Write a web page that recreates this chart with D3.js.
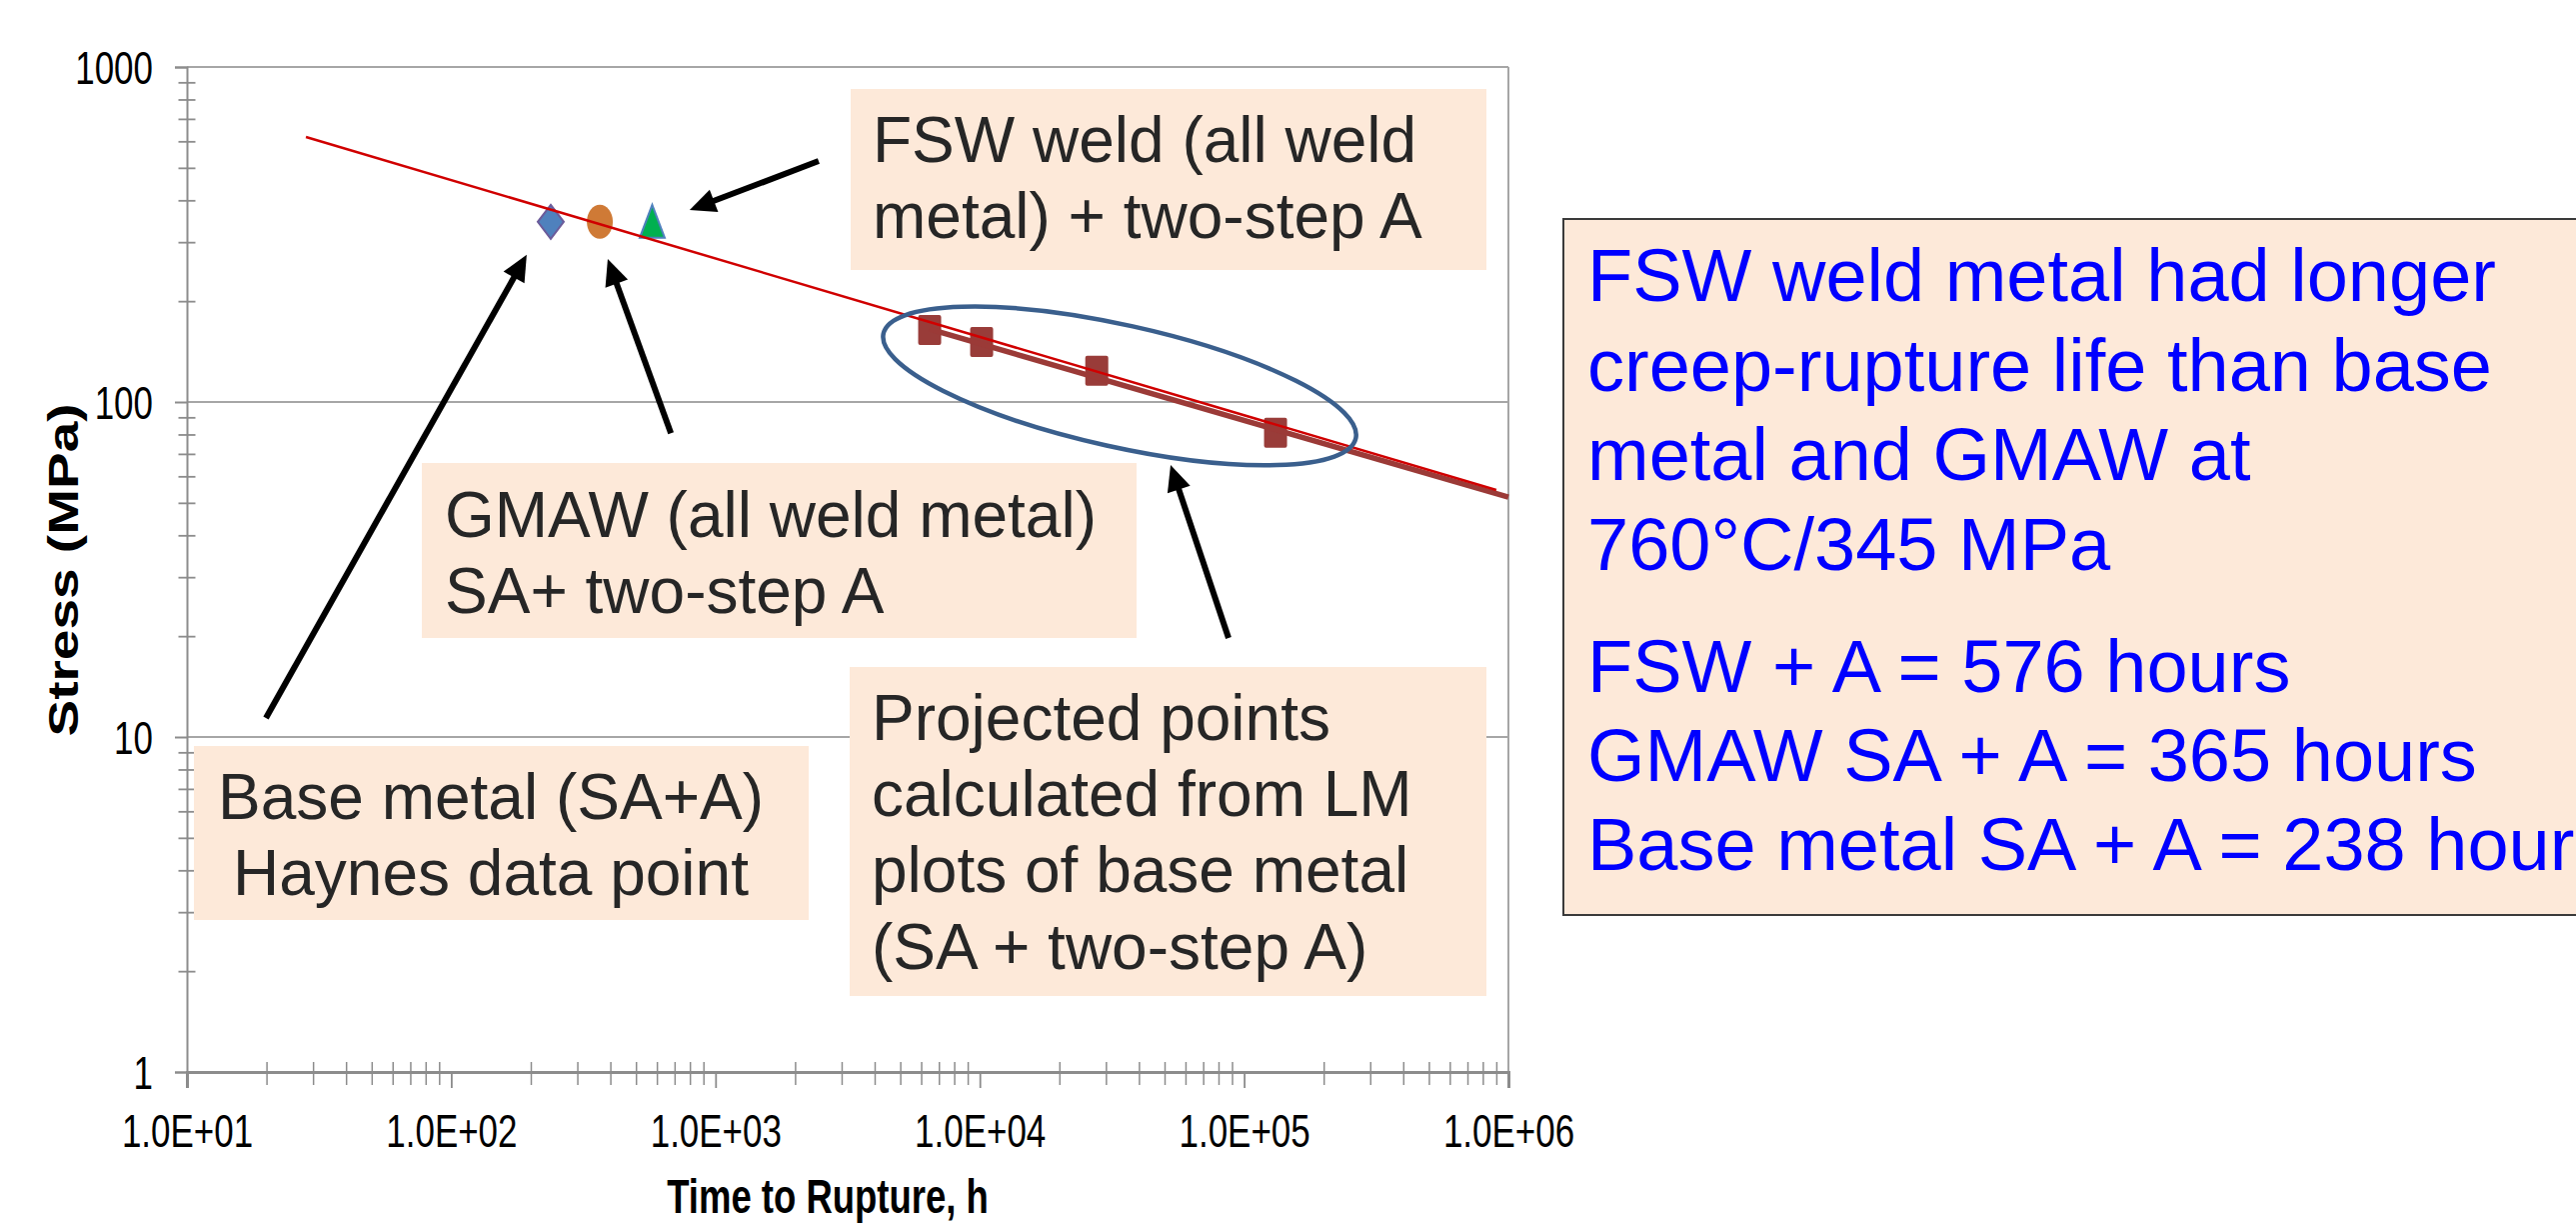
<!DOCTYPE html>
<html>
<head>
<meta charset="utf-8">
<script src="https://cdn.jsdelivr.net/npm/d3@7"></script>
<style>
  html, body { margin: 0; padding: 0; background: #ffffff; }
  svg { display: block; }
</style>
</head>
<body>
<svg id="chart" width="2577" height="1225"></svg>
<script>
// ---------------- DATA ----------------
const timeTicks = [10, 100, 1000, 10000, 100000, 1000000];
const timeTickLabels = ["1.0E+01", "1.0E+02", "1.0E+03", "1.0E+04", "1.0E+05", "1.0E+06"];
const stressTicks = [1, 10, 100, 1000];
const stressTickLabels = ["1", "10", "100", "1000"];

// measured points (time to rupture h, stress MPa)
const baseMetalTime = [238];
const baseMetalStress = [345];
const gmawTime = [365];
const gmawStress = [345];
const fswTime = [576];
const fswStress = [345];

// projected points from LM plots
const projectedTime = [6460, 10160, 27700, 131500];
const projectedStress = [164, 151, 124, 81];

// trend lines [time, stress]
const overallTrend = [[28.2, 618], [900000, 54.6]];
const projectedTrend = [[6460, 165], [1000000, 52]];

// annotation texts
const noteFSW = ["FSW weld (all weld", "metal) + two-step A"];
const noteGMAW = ["GMAW (all weld metal)", "SA+ two-step A"];
const noteBase = ["Base metal (SA+A)", "Haynes data point"];
const noteProjected = ["Projected points", "calculated from LM", "plots of base metal", "(SA + two-step A)"];
const summaryLines = ["FSW weld metal had longer", "creep-rupture life than base", "metal and GMAW at", "760°C/345 MPa",
                      "FSW + A = 576 hours", "GMAW SA + A = 365 hours", "Base metal SA + A = 238 hours"];

// arrows: [tail, tip] in data units [time, stress]
const arrowFSW = [[2455, 524], [798, 374]];
const arrowBase = [[19.9, 11.4], [193, 275]];
const arrowGMAW = [[678, 80.7], [391, 267]];
const arrowProjected = [[87300, 19.75], [52700, 64.9]];
// highlight ellipse centre [time, stress]
const ellipseCentre = [33800, 111.7];

// ---------------- LAYOUT ----------------
const svg = d3.select("#chart");
const L = 187, R = 1509, T = 67, B = 1072;
const x = d3.scaleLog().domain([10, 1e6]).range([L, R]);
const y = d3.scaleLog().domain([1, 1000]).range([B, T]);
const FONT = "'Liberation Sans', Arial, Helvetica, sans-serif";
const K = 0.76; // horizontal squeeze of chart text
const gridCol = "#a6a6a6", axisCol = "#8c8c8c";

// minor tick values
const minorX = [];
[10, 100, 1000, 10000, 100000].forEach(d => { for (let k = 2; k <= 9; k++) minorX.push(d * k); });
const minorY = [];
[1, 10, 100].forEach(d => { for (let k = 2; k <= 9; k++) minorY.push(d * k); });

// gridlines
svg.append("g").selectAll("line").data(stressTicks.slice(1)).join("line")
  .attr("x1", L).attr("x2", R).attr("y1", d => y(d)).attr("y2", d => y(d))
  .attr("stroke", gridCol).attr("stroke-width", 2);
// right border
svg.append("line").attr("x1", R).attr("x2", R).attr("y1", T).attr("y2", B)
  .attr("stroke", gridCol).attr("stroke-width", 2);

// Y axis major
const yAxis = svg.append("g").attr("transform", `translate(${L},0)`)
  .call(d3.axisLeft(y).tickValues(stressTicks).tickSize(12)
    .tickFormat((d, i) => stressTickLabels[i]));
yAxis.select(".domain").attr("stroke", axisCol).attr("stroke-width", 2);
yAxis.selectAll(".tick line").attr("stroke", axisCol).attr("stroke-width", 2);
yAxis.selectAll(".tick text")
  .attr("x", 0).attr("dy", null).attr("y", 16)
  .attr("transform", `translate(-34,0) scale(${K},1)`)
  .attr("font-family", FONT).attr("font-size", 46).attr("fill", "#000");
// Y axis minor (crossing)
const yMinor = svg.append("g").attr("transform", `translate(${L + 8.5},0)`)
  .call(d3.axisLeft(y).tickValues(minorY).tickSize(17).tickFormat(""));
yMinor.select(".domain").remove();
yMinor.selectAll(".tick line").attr("stroke", axisCol).attr("stroke-width", 1.8);

// X axis major
const xAxis = svg.append("g").attr("transform", `translate(0,${B})`)
  .call(d3.axisBottom(x).tickValues(timeTicks).tickSize(16)
    .tickFormat((d, i) => timeTickLabels[i]));
xAxis.select(".domain").attr("stroke", axisCol).attr("stroke-width", 3);
xAxis.selectAll(".tick line").attr("stroke", axisCol).attr("stroke-width", 1.8);
xAxis.selectAll(".tick text")
  .attr("y", 0).attr("dy", null)
  .attr("transform", `translate(0,75) scale(${K},1)`)
  .attr("font-family", FONT).attr("font-size", 46).attr("fill", "#000");
// X axis minor (crossing)
const xMinor = svg.append("g").attr("transform", `translate(0,${B - 10})`)
  .call(d3.axisBottom(x).tickValues(minorX).tickSize(23).tickFormat(""));
xMinor.select(".domain").remove();
xMinor.selectAll(".tick line").attr("stroke", axisCol).attr("stroke-width", 1.5);

// axis titles
svg.append("text").attr("transform", `translate(828,1213) scale(${K},1)`)
  .attr("text-anchor", "middle").attr("font-family", FONT).attr("font-weight", "bold")
  .attr("font-size", 48).attr("fill", "#000").text("Time to Rupture, h");
svg.append("text").attr("transform", `translate(78,570) scale(${K},1) rotate(-90)`)
  .attr("text-anchor", "middle").attr("font-family", FONT).attr("font-weight", "bold")
  .attr("font-size", 55).attr("fill", "#000").text("Stress (MPa)");

// ---------------- MARKS ----------------
const pts = g => g;
// projected squares
svg.append("g").selectAll("rect").data(projectedTime.map((t, i) => [t, projectedStress[i]])).join("rect")
  .attr("x", d => x(d[0]) - 11.5).attr("y", d => y(d[1]) - 15)
  .attr("width", 23).attr("height", 30).attr("rx", 2)
  .attr("fill", "#993c39");
// base metal diamond
svg.append("g").selectAll("path").data(baseMetalTime.map((t, i) => [t, baseMetalStress[i]])).join("path")
  .attr("d", d => { const cx = x(d[0]), cy = y(d[1]);
    return `M${cx},${cy - 17}L${cx + 13},${cy}L${cx},${cy + 17}L${cx - 13},${cy}Z`; })
  .attr("fill", "#4f81bd").attr("stroke", "#6b5b9a").attr("stroke-width", 2);
// GMAW ellipse
svg.append("g").selectAll("ellipse").data(gmawTime.map((t, i) => [t, gmawStress[i]])).join("ellipse")
  .attr("cx", d => x(d[0])).attr("cy", d => y(d[1])).attr("rx", 13).attr("ry", 17)
  .attr("fill", "#cf7a36");
// FSW triangle
svg.append("g").selectAll("path").data(fswTime.map((t, i) => [t, fswStress[i]])).join("path")
  .attr("d", d => { const cx = x(d[0]), cy = y(d[1]);
    return `M${cx},${cy - 17}L${cx + 12.5},${cy + 16}L${cx - 12.5},${cy + 16}Z`; })
  .attr("fill", "#00b050").attr("stroke", "#4f81bd").attr("stroke-width", 2);

// trend lines
const line = d3.line().x(d => x(d[0])).y(d => y(d[1]));
svg.append("path").datum(projectedTrend).attr("d", line)
  .attr("fill", "none").attr("stroke", "#9b3a37").attr("stroke-width", 5.5);
svg.append("path").datum(overallTrend).attr("d", line)
  .attr("fill", "none").attr("stroke", "#d00000").attr("stroke-width", 2.5);

// ---------------- ANNOTATIONS ----------------
const peach = "#fde9d9", noteCol = "#262626";
function noteBox(x0, y0, x1, y1, lines, tx, baselines, anchor) {
  const g = svg.append("g");
  g.append("rect").attr("x", x0).attr("y", y0).attr("width", x1 - x0).attr("height", y1 - y0)
    .attr("fill", peach);
  g.selectAll("text").data(lines).join("text")
    .attr("x", tx).attr("y", (d, i) => baselines[i])
    .attr("text-anchor", anchor || "start")
    .attr("font-family", FONT).attr("font-size", 64).attr("fill", noteCol)
    .text(d => d);
}
noteBox(851, 89, 1487, 270, noteFSW, 873, [162, 238]);
noteBox(422, 463, 1137, 638, noteGMAW, 445, [537, 613]);
noteBox(194, 746, 809, 920, noteBase, 491, [819, 895], "middle");
noteBox(850, 667, 1487, 996, noteProjected, 872, [740, 816, 892, 969]);

// highlight ellipse
svg.append("ellipse")
  .attr("transform", `translate(${x(ellipseCentre[0])},${y(ellipseCentre[1])}) rotate(12.5)`)
  .attr("rx", 242).attr("ry", 61)
  .attr("fill", "none").attr("stroke", "#3a5f8d").attr("stroke-width", 4.5);

// arrows
function arrow(a) {
  const x0 = x(a[0][0]), y0 = y(a[0][1]), x1 = x(a[1][0]), y1 = y(a[1][1]);
  const dx = x1 - x0, dy = y1 - y0, len = Math.hypot(dx, dy);
  const ux = dx / len, uy = dy / len, hl = 26, hw = 12;
  const bx = x1 - ux * hl, by = y1 - uy * hl;
  svg.append("line").attr("x1", x0).attr("y1", y0).attr("x2", bx + ux * 2).attr("y2", by + uy * 2)
    .attr("stroke", "#000").attr("stroke-width", 6);
  svg.append("path")
    .attr("d", `M${x1},${y1}L${bx - uy * hw},${by + ux * hw}L${bx + uy * hw},${by - ux * hw}Z`)
    .attr("fill", "#000");
}
[arrowFSW, arrowBase, arrowGMAW, arrowProjected].forEach(arrow);

// summary box
const sg = svg.append("g");
sg.append("rect").attr("x", 1564).attr("y", 219).attr("width", 1100).attr("height", 696)
  .attr("fill", peach).attr("stroke", "#3a3a3a").attr("stroke-width", 2);
const sumBase = [301, 391, 480, 570, 692, 781, 870];
sg.selectAll("text").data(summaryLines).join("text")
  .attr("x", 1588).attr("y", (d, i) => sumBase[i])
  .attr("font-family", FONT).attr("font-size", 74).attr("fill", "#0000ff")
  .text(d => d);
</script>
</body>
</html>
